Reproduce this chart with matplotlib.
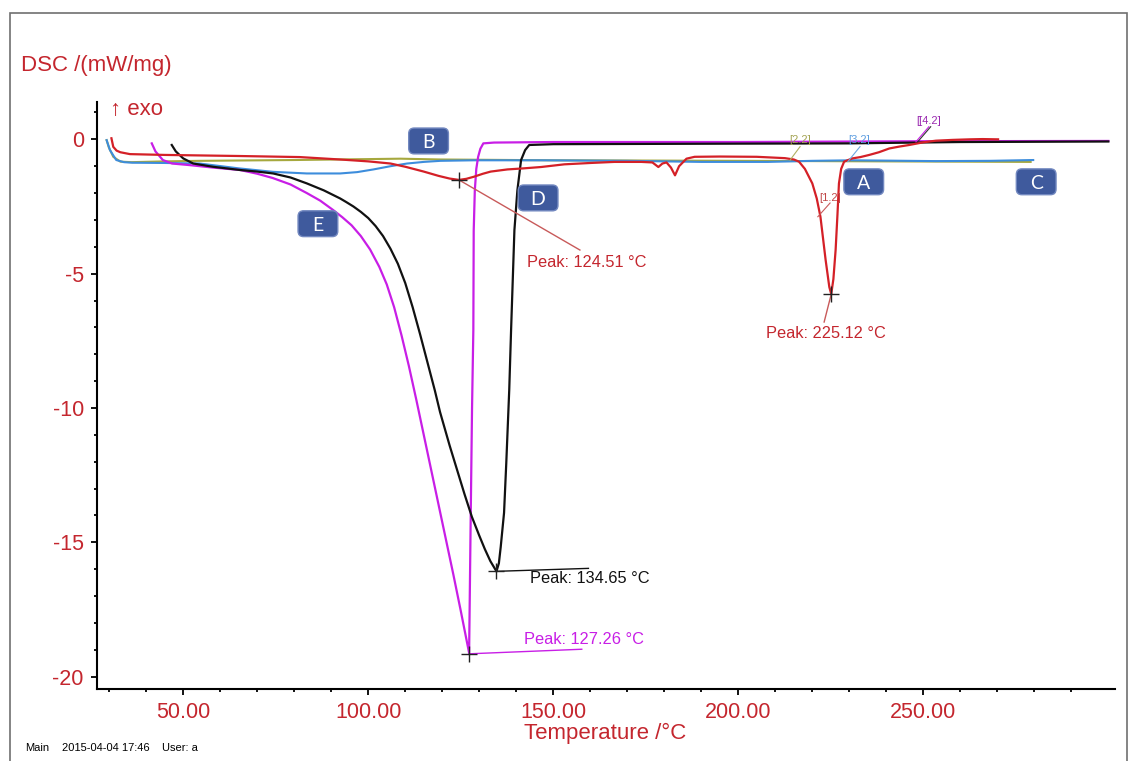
import matplotlib
matplotlib.use('Agg')
import matplotlib.pyplot as plt
from matplotlib.patches import Rectangle, FancyBboxPatch
from matplotlib.offsetbox import AnnotationBbox, DrawingArea
from matplotlib.text import Text
from matplotlib.ticker import FixedLocator, MultipleLocator

plt.rcParams['font.family'] = ['Liberation Sans', 'DejaVu Sans']
plt.rcParams['axes.unicode_minus'] = False

# curve A (red, [1.2])
red_t = [30.6, 31.1, 32.0, 33.0, 35.6, 45, 55, 65, 81.5, 92.4, 100, 106, 110, 115, 119, 122,
         124.51, 126.5, 128.6, 131, 133.1, 137.6, 142, 146.7, 153, 160, 166.5, 173.8, 176.8,
         178.4, 179.5, 180.6, 181.8, 182.9, 184, 186, 188.2, 195, 205, 212.6, 215, 216.4, 218,
         220, 221.2, 222.2, 223.6, 224.6, 225.12, 225.7, 226.3, 226.8, 227.2, 227.8, 228.6,
         230.8, 233, 235.4, 238, 240.8, 243.5, 246.2, 250, 253.4, 258, 262.5, 266, 270.2]
red_y = [0.04, -0.28, -0.42, -0.48, -0.55, -0.58, -0.6, -0.62, -0.66, -0.75, -0.82, -0.9,
         -1.02, -1.2, -1.36, -1.46, -1.51, -1.47, -1.39, -1.28, -1.2, -1.12, -1.08, -1.03,
         -0.93, -0.88, -0.84, -0.84, -0.86, -1.03, -0.9, -0.86, -1.05, -1.34, -1.0, -0.72,
         -0.65, -0.64, -0.65, -0.7, -0.75, -0.83, -1.1, -1.64, -2.2, -2.88, -4.49, -5.5,
         -5.76, -5.2, -4.12, -2.8, -1.64, -1.1, -0.83, -0.71, -0.66, -0.58, -0.48, -0.34,
         -0.27, -0.21, -0.11, -0.05, -0.02, 0.0, 0.01, 0.0]

# curve B (olive, [2.2])
olv_t = [29.3, 29.9, 31.1, 33, 36, 45, 54.4, 80, 108.7, 119.5, 150, 200, 240, 279]
olv_y = [-0.03, -0.3, -0.65, -0.83, -0.85, -0.82, -0.8, -0.77, -0.72, -0.75, -0.78, -0.8,
         -0.82, -0.84]

# curve C (blue, [3.2])
blu_t = [29.3, 30.2, 31.9, 34, 36.3, 45, 54.4, 56.2, 65, 74.3, 83.4, 92.4, 97, 101.4, 106,
         110.5, 115, 119.5, 128.6, 146.7, 170, 190, 208, 220, 230.8, 253.4, 268, 279.7]
blu_y = [-0.03, -0.4, -0.77, -0.85, -0.87, -0.88, -0.9, -0.93, -1.08, -1.21, -1.27, -1.27,
         -1.22, -1.12, -1.0, -0.9, -0.84, -0.8, -0.78, -0.78, -0.8, -0.84, -0.84, -0.8, -0.78,
         -0.81, -0.8, -0.77]

# curve D (black, [4.2])
blk_t = [46.9, 48, 50.0, 52.7, 58, 65.3, 70, 74.3, 79, 83.4, 88, 92.4, 94, 96, 98, 100, 102,
         104, 106, 108, 110, 112, 114, 116, 118, 119.4, 122, 124, 126, 128, 130, 131.5, 133,
         134.65, 135.3, 135.8, 136.7, 137.3, 138.1, 138.6, 139.5, 140.3, 141.3, 142.4, 143.5,
         150, 200, 230, 260, 300]
blk_y = [-0.21, -0.45, -0.71, -0.9, -1.02, -1.14, -1.2, -1.27, -1.42, -1.64, -1.9, -2.2,
         -2.33, -2.5, -2.7, -2.93, -3.23, -3.6, -4.07, -4.63, -5.35, -6.25, -7.25, -8.3, -9.35,
         -10.15, -11.4, -12.3, -13.2, -14.05, -14.75, -15.25, -15.7, -16.08, -15.78, -15.17,
         -13.9, -12.05, -9.33, -7.1, -3.38, -1.9, -0.77, -0.4, -0.21, -0.18, -0.16, -0.15,
         -0.1, -0.08]

# curve E (magenta, [4.2])
mag_t = [41.5, 42.5, 44.5, 47, 51.8, 58, 65.3, 70, 74.2, 79, 83.4, 87, 90.5, 93, 95.5, 98,
         100.5, 103, 105, 107, 109, 111, 113, 115, 117, 119, 121, 123, 125, 127.26, 127.65,
         128.05, 128.4, 128.5, 128.8, 129.2, 129.7, 130.3, 131.1, 134, 150, 200, 250, 300]
mag_y = [-0.15, -0.45, -0.77, -0.9, -0.96, -1.05, -1.14, -1.28, -1.44, -1.68, -2.0, -2.28,
         -2.63, -2.9, -3.2, -3.6, -4.1, -4.75, -5.4, -6.25, -7.3, -8.45, -9.7, -11.0, -12.3,
         -13.6, -14.9, -16.2, -17.55, -19.12, -14.5, -10.0, -7.1, -3.4, -1.9, -1.1, -0.65,
         -0.35, -0.15, -0.12, -0.1, -0.1, -0.07, -0.06]

peak_t = [124.51, 225.12, 134.65, 127.26]
peak_y = [-1.51, -5.76, -16.08, -19.15]
peak_txt = ['Peak: 124.51 °C', 'Peak: 225.12 °C', 'Peak: 134.65 °C', 'Peak: 127.26 °C']

box_letters = ['A', 'B', 'C', 'D', 'E']
box_t = [233.9, 116.3, 280.5, 145.9, 86.4]
box_y = [-1.58, -0.06, -1.58, -2.18, -3.14]

c_red = '#d42027'
c_txt = '#c4262e'
c_mag = '#c81ee6'
c_blu = '#3d8ddc'
c_olv = '#a6a83e'
c_blk = '#111111'

fig = plt.figure(figsize=(11.3, 7.61), dpi=100)
ax = fig.add_axes([97 / 1130, 72 / 761, 1018 / 1130, 587 / 761])

ax.plot(olv_t, olv_y, color=c_olv, lw=1.5)
ax.plot(blu_t, blu_y, color=c_blu, lw=1.5)
ax.plot(mag_t, mag_y, color=c_mag, lw=1.6)
ax.plot(blk_t, blk_y, color=c_blk, lw=1.6)
ax.plot(red_t, red_y, color=c_red, lw=1.6)

# peak annotations
ends = [(157.2, -4.12), (223.2, -6.8), (159.5, -15.97), (157.7, -18.98)]
lcols = ['#c85a5a', '#c85a5a', c_blk, c_mag]
tcols = [c_txt, c_txt, c_blk, c_mag]
tpos = [(142.8, -4.59, 'left'), (223.6, -7.21, 'center'), (143.7, -16.34, 'left'),
        (142.1, -18.61, 'left')]
for i in range(4):
    ax.plot([peak_t[i], ends[i][0]], [peak_y[i], ends[i][1]], color=lcols[i], lw=1)
    ax.plot(peak_t[i], peak_y[i], marker='+', ms=11, mew=1, color='#222222')
    ax.text(tpos[i][0], tpos[i][1], peak_txt[i], color=tcols[i], fontsize=11.8,
            ha=tpos[i][2], va='center')

# segment labels
ax.text(216.7, -0.03, '[2.2]', color='#a4a454', fontsize=8, ha='center', va='center')
ax.plot([216.7, 214.0], [-0.27, -0.77], color='#b0b060', lw=0.8)
ax.text(232.6, -0.03, '[3.2]', color='#5f9ee0', fontsize=8, ha='center', va='center')
ax.plot([232.9, 229.6], [-0.27, -0.83], color='#6fa6e0', lw=0.8)
ax.text(224.8, -2.18, '[1.2]', color='#c04848', fontsize=8, ha='center', va='center')
ax.plot([224.8, 221.5], [-2.37, -2.88], color='#c85a5a', lw=0.8)
ax.text(251.4, 0.68, '[[4.2]', color='#9a2ab0', fontsize=8, ha='center', va='center')
ax.plot([251.5, 248.0], [0.47, -0.09], color=c_mag, lw=0.8)
ax.plot([252.0, 248.5], [0.47, -0.09], color='#333333', lw=0.8)

# letter boxes
for s, bt, by in zip(box_letters, box_t, box_y):
    da = DrawingArea(31, 21)
    da.add_artist(FancyBboxPatch((1.2, 1.2), 28.6, 18.6, boxstyle='round,pad=0,rounding_size=4',
                                 fc='#3f5a9d', ec='#7288c0', lw=1))
    da.add_artist(Text(15.5, 10.5, s, ha='center', va='center_baseline', color='white',
                       fontsize=14, family='Lato'))
    ax.add_artist(AnnotationBbox(da, (bt, by), frameon=False, pad=0, box_alignment=(0.5, 0.5)))

ax.set_xlim(26.7, 301.8)
ax.set_ylim(-20.46, 1.39)
ax.spines['top'].set_visible(False)
ax.spines['right'].set_visible(False)
for sp in ['left', 'bottom']:
    ax.spines[sp].set_linewidth(1.5)
ax.xaxis.set_major_locator(FixedLocator([50, 100, 150, 200, 250]))
ax.xaxis.set_minor_locator(FixedLocator([30, 40, 60, 70, 80, 90, 110, 120, 130, 140, 160, 170,
                                         180, 190, 210, 220, 230, 240, 260, 270, 280, 290]))
ax.set_xticklabels(['50.00', '100.00', '150.00', '200.00', '250.00'])
ax.yaxis.set_major_locator(FixedLocator([0, -5, -10, -15, -20]))
ax.yaxis.set_minor_locator(MultipleLocator(1))
ax.set_yticklabels(['0', '-5', '-10', '-15', '-20'])
ax.tick_params(which='major', length=4.5, width=1.3, labelsize=15.5, labelcolor=c_txt, pad=5)
ax.tick_params(which='minor', length=2.5, width=1.3)

fig.text(605 / 1130, 1 - 733 / 761, 'Temperature /°C', color=c_txt, fontsize=16,
         ha='center', va='center')
fig.text(21 / 1130, 1 - 65 / 761, 'DSC /(mW/mg)', color=c_txt, fontsize=16, ha='left', va='center')
fig.text(110 / 1130, 1 - 110 / 761, '↑ exo', color=c_txt, fontsize=16, ha='left', va='center')
fig.text(25 / 1130, 1 - 748 / 761, 'Main', fontsize=8, ha='left', va='center')
fig.text(62 / 1130, 1 - 748 / 761, '2015-04-04 17:46', fontsize=8, ha='left', va='center')
fig.text(162 / 1130, 1 - 748 / 761, 'User: a', fontsize=8, ha='left', va='center')

fig.patches.append(Rectangle((9.5 / 1130, -0.05), (1127 - 9.5) / 1130, 1.05 - 13 / 761,
                             transform=fig.transFigure, fill=False, ec='#707070', lw=1.2))

fig.savefig('out.png', dpi=100)
